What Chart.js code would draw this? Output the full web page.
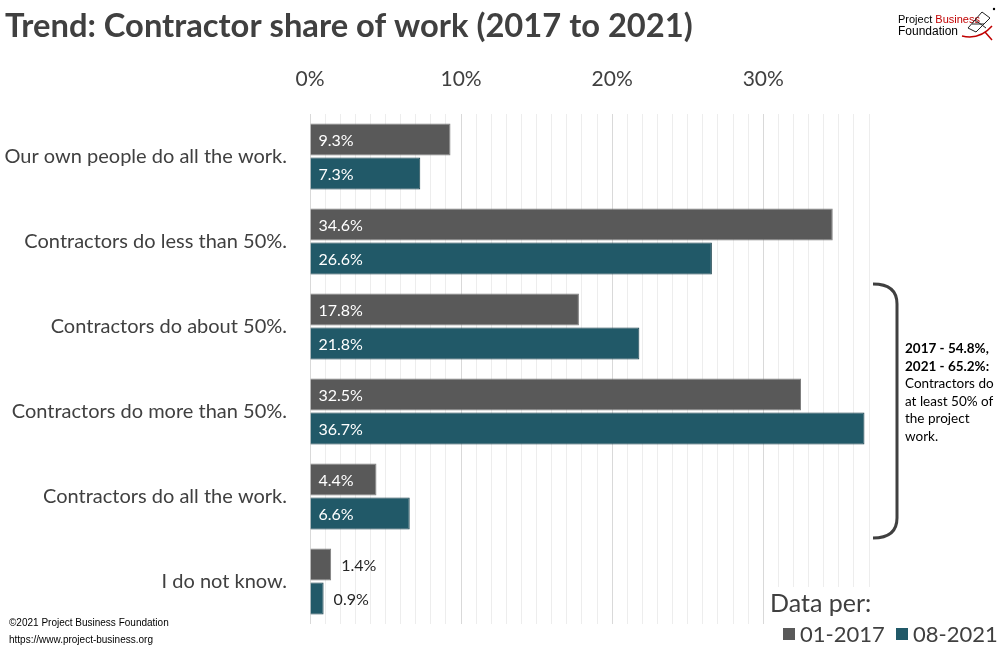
<!DOCTYPE html>
<html>
<head>
<meta charset="utf-8">
<script src="https://cdn.jsdelivr.net/npm/chart.js@4"></script>
<style>
  body { margin: 0; background: #fff; }
  #wrap { width: 1000px; height: 653px; position: relative; }
</style>
</head>
<body>
<div id="wrap"><canvas id="myChart"></canvas></div>
<script>
const categories = [
  'Our own people do all the work.',
  'Contractors do less than 50%.',
  'Contractors do about 50%.',
  'Contractors do more than 50%.',
  'Contractors do all the work.',
  'I do not know.'
];
const share2017 = [9.3, 34.6, 17.8, 32.5, 4.4, 1.4];
const share2021 = [7.3, 26.6, 21.8, 36.7, 6.6, 0.9];
const seriesNames = ['01-2017', '08-2021'];
const seriesColors = ['#595959', '#215968'];
const tickLabels = ['0%', '10%', '20%', '30%'];
const noteBold = ['2017 - 54.8%,', '2021 - 65.2%:'];
const noteText = ['Contractors do', 'at least 50% of', 'the project', 'work.'];

const FONT = 'Lato, "Open Sans", sans-serif';
const NARROW = '"Liberation Sans Narrow", "Liberation Sans", sans-serif';
const TEXT = '#404040';

// labels on the bars: inside in white, outside when the bar is too short
const barLabels = {
  id: 'barLabels',
  afterDatasetsDraw(chart) {
    const c = chart.ctx;
    c.save();
    c.font = '16px ' + FONT;
    c.textBaseline = 'middle';
    chart.data.datasets.forEach((ds, i) => {
      chart.getDatasetMeta(i).data.forEach((bar, j) => {
        const v = ds.data[j];
        const txt = v.toFixed(1) + '%';
        if (v > 3) {
          c.fillStyle = '#ffffff';
          c.fillText(txt, bar.base + 8, bar.y + 1);
        } else {
          c.fillStyle = '#262626';
          c.fillText(txt, bar.x + 10, bar.y + 1);
        }
      });
    });
    c.restore();
  }
};

// title, logo, bracket note, legend and footer
const extras = {
  id: 'extras',
  afterDraw(chart) {
    const c = chart.ctx;
    c.save();

    c.fillStyle = TEXT;
    c.textBaseline = 'alphabetic';
    c.font = 'bold 32.7px ' + FONT;
    c.fillText('Trend: Contractor share of work (2017 to 2021)', 5, 37);

    // logo
    c.font = '11px ' + NARROW;
    c.fillStyle = '#000';
    c.fillText('Project', 898, 23);
    const w = c.measureText('Project ').width;
    c.fillStyle = '#c00000';
    c.fillText('Business', 898 + w, 23);
    c.fillStyle = '#000';
    c.font = '12px ' + NARROW;
    c.fillText('Foundation', 898, 35);
    c.strokeStyle = '#222';
    c.lineWidth = 1;
    c.beginPath();
    c.moveTo(968, 28); c.lineTo(982, 12); c.lineTo(990, 18); c.lineTo(976, 32); c.closePath();
    c.moveTo(972, 24); c.lineTo(984, 24);
    c.moveTo(975, 20); c.lineTo(986, 28);
    c.stroke();
    c.strokeStyle = '#c00000';
    c.lineWidth = 1.5;
    c.beginPath();
    c.moveTo(962, 36); c.quadraticCurveTo(980, 40, 992, 26);
    c.moveTo(985, 32); c.lineTo(992, 40);
    c.stroke();
    c.fillStyle = '#000';
    c.beginPath(); c.arc(994, 9, 1.2, 0, Math.PI * 2); c.fill();

    // bracket
    c.strokeStyle = TEXT;
    c.lineWidth = 3;
    c.beginPath();
    c.moveTo(873, 284);
    c.quadraticCurveTo(897, 284, 897, 304);
    c.lineTo(897, 518);
    c.quadraticCurveTo(897, 538, 873, 538);
    c.stroke();

    // note
    c.fillStyle = '#000';
    c.textBaseline = 'middle';
    let y = 349;
    c.font = 'bold 13.5px ' + FONT;
    noteBold.forEach(t => { c.fillText(t, 905, y); y += 17.5; });
    c.font = '13.5px ' + FONT;
    noteText.forEach(t => { c.fillText(t, 905, y); y += 17.5; });

    // legend
    c.fillStyle = '#fff';
    c.fillRect(764, 587, 110, 40);
    c.fillStyle = TEXT;
    c.font = '25px ' + FONT;
    c.fillText('Data per:', 770, 604);
    c.font = '22px ' + FONT;
    let x = 783;
    seriesNames.forEach((name, i) => {
      c.fillStyle = seriesColors[i];
      c.fillRect(x, 628, 12, 12);
      c.fillStyle = TEXT;
      c.fillText(name, x + 17, 635);
      x += 113;
    });

    // footer
    c.fillStyle = '#000';
    c.font = '10px ' + NARROW;
    c.fillText('\u00a92021 Project Business Foundation', 9, 623);
    c.fillText('https://www.project-business.org', 9, 640);

    c.restore();
  }
};

const ctx = document.getElementById('myChart');

new Chart(ctx, {
  type: 'bar',
  data: {
    labels: categories,
    datasets: [
      {
        label: seriesNames[0],
        data: share2017,
        backgroundColor: seriesColors[0],
        borderColor: '#7f7f7f',
        borderWidth: 1
      },
      {
        label: seriesNames[1],
        data: share2021,
        backgroundColor: seriesColors[1],
        borderColor: '#173f4a',
        borderWidth: 1
      }
    ]
  },
  options: {
    indexAxis: 'y',
    responsive: true,
    maintainAspectRatio: false,
    animation: false,
    categoryPercentage: 0.8,
    barPercentage: 0.94,
    layout: { padding: { top: 60, right: 131, bottom: 29, left: 0 } },
    plugins: {
      legend: { display: false },
      tooltip: { enabled: false }
    },
    scales: {
      x: {
        position: 'top',
        min: 0,
        max: 37,
        ticks: {
          stepSize: 1,
          autoSkip: false,
          maxRotation: 0,
          padding: 22,
          color: TEXT,
          font: { family: FONT, size: 21 },
          callback: v => (v % 10 === 0 ? tickLabels[v / 10] : '')
        },
        grid: {
          drawTicks: false,
          color: c => (c.tick && c.tick.value % 10 === 0 ? '#d9d9d9' : '#ededed')
        },
        border: { display: false },
        afterFit: scale => { scale.height = 54; }
      },
      y: {
        grid: { display: false },
        border: { display: false },
        ticks: {
          padding: 15,
          color: TEXT,
          font: { family: FONT, size: 20 }
        },
        afterFit: scale => { scale.width = 310; }
      }
    }
  },
  plugins: [barLabels, extras]
});
</script>
</body>
</html>
